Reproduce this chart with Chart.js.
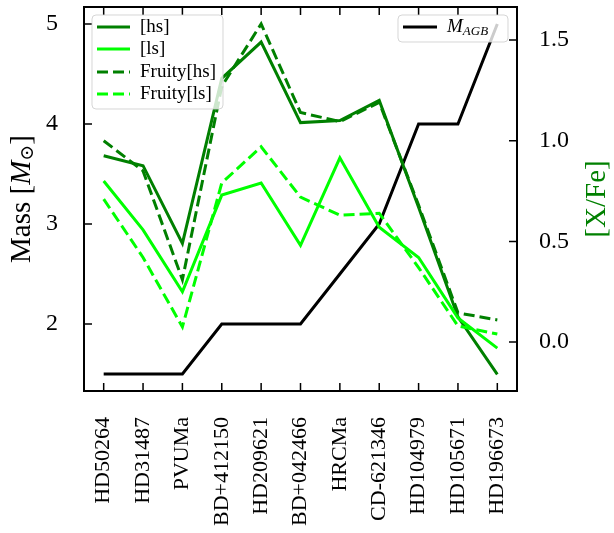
<!DOCTYPE html>
<html>
<head>
<meta charset="utf-8">
<script src="https://cdn.jsdelivr.net/npm/chart.js@4/dist/chart.umd.min.js"></script>
<style>
  html, body { margin: 0; padding: 0; background: #fff; }
</style>
</head>
<body>
<canvas id="chart" width="614" height="533"></canvas>
<script>
const stars = ['HD50264', 'HD31487', 'PVUMa', 'BD+412150', 'HD209621', 'BD+042466',
  'HRCMa', 'CD-621346', 'HD104979', 'HD105671', 'HD196673'];
const massAGB = [1.5, 1.5, 1.5, 2, 2, 2, 2.5, 3, 4, 4, 5];
const hs = [0.925, 0.876, 0.49, 1.31, 1.49, 1.09, 1.10, 1.20, 0.67, 0.125, -0.16];
const ls = [0.80, 0.557, 0.25, 0.73, 0.79, 0.48, 0.915, 0.57, 0.42, 0.12, -0.03];
const fruityHs = [1.00, 0.85, 0.31, 1.27, 1.58, 1.14, 1.095, 1.19, 0.68, 0.145, 0.11];
const fruityLs = [0.71, 0.42, 0.075, 0.79, 0.97, 0.72, 0.63, 0.64, 0.37, 0.08, 0.04];
const massTicks = [2, 3, 4, 5];
const xfeTicks = [0, 0.5, 1, 1.5];

const SERIF = "'Liberation Serif', 'DejaVu Serif', serif";
const DARK = '#008000';
const LIME = '#00ff00';

// draw a run of text pieces (font / vertical shift each) starting at x
function richText(ctx, parts, x, y) {
  let cx = x;
  parts.forEach(p => {
    ctx.font = p.font;
    ctx.fillText(p.t, cx, y + (p.dy || 0));
    cx += ctx.measureText(p.t).width;
  });
  return cx - x;
}
function richWidth(ctx, parts) {
  let w = 0;
  parts.forEach(p => { ctx.font = p.font; w += ctx.measureText(p.t).width; });
  return w;
}

function legendBox(ctx, x, y, w, h) {
  ctx.save();
  ctx.beginPath();
  ctx.roundRect(x, y, w, h, 4);
  ctx.fillStyle = 'rgba(255,255,255,0.8)';
  ctx.fill();
  ctx.strokeStyle = 'rgba(204,204,204,0.8)';
  ctx.lineWidth = 1;
  ctx.stroke();
  ctx.restore();
}

function legendRow(ctx, ds, x0, x1, y, tx, parts) {
  ctx.save();
  ctx.strokeStyle = ds.borderColor;
  ctx.lineWidth = ds.borderWidth;
  ctx.setLineDash(ds.borderDash || []);
  ctx.beginPath();
  ctx.moveTo(x0, y);
  ctx.lineTo(x1, y);
  ctx.stroke();
  ctx.setLineDash([]);
  ctx.fillStyle = '#000';
  ctx.textBaseline = 'middle';
  richText(ctx, parts, tx, y);
  ctx.restore();
}

const decorations = {
  id: 'decorations',
  afterDatasetsDraw(chart) {
    const { ctx, chartArea: a, scales } = chart;
    ctx.save();
    // inward ticks
    ctx.strokeStyle = '#000';
    ctx.lineWidth = 1.5;
    ctx.beginPath();
    scales.x.ticks.forEach((t, i) => {
      const x = scales.x.getPixelForTick(i);
      ctx.moveTo(x, a.bottom); ctx.lineTo(x, a.bottom - 8);
      ctx.moveTo(x, a.top); ctx.lineTo(x, a.top + 8);
    });
    massTicks.forEach(v => {
      const y = scales.y.getPixelForValue(v);
      ctx.moveTo(a.left, y); ctx.lineTo(a.left + 8, y);
    });
    xfeTicks.forEach(v => {
      const y = scales.y1.getPixelForValue(v);
      ctx.moveTo(a.right, y); ctx.lineTo(a.right - 8, y);
    });
    ctx.stroke();
    ctx.lineWidth = 2;
    ctx.strokeRect(a.left, a.top, a.right - a.left, a.bottom - a.top);

    // legends
    const ds = chart.data.datasets;
    legendBox(ctx, 92, 15, 131, 94);
    const f = '19px ' + SERIF;
    legendRow(ctx, ds[0], 97, 130, 27, 140, [{ t: '[hs]', font: f }]);
    legendRow(ctx, ds[1], 97, 130, 49, 140, [{ t: '[ls]', font: f }]);
    legendRow(ctx, ds[2], 97, 130, 72, 140, [{ t: 'Fruity[hs]', font: f }]);
    legendRow(ctx, ds[3], 97, 130, 94, 140, [{ t: 'Fruity[ls]', font: f }]);

    legendBox(ctx, 398, 15, 110, 27);
    legendRow(ctx, ds[4], 403, 437, 27, 447, [
      { t: 'M', font: 'italic 19px ' + SERIF },
      { t: 'AGB', font: 'italic 13px ' + SERIF, dy: 5 }
    ]);

    // axis titles
    ctx.fillStyle = '#000';
    ctx.textBaseline = 'middle';
    const mid = (a.top + a.bottom) / 2;
    const left = [
      { t: 'Mass [', font: '29px ' + SERIF },
      { t: 'M', font: 'italic 29px ' + SERIF },
      { t: '⊙', font: '19px ' + SERIF, dy: 6 },
      { t: ']', font: '29px ' + SERIF }
    ];
    ctx.save();
    ctx.translate(22, mid);
    ctx.rotate(-Math.PI / 2);
    richText(ctx, left, -richWidth(ctx, left) / 2, 0);
    ctx.restore();

    ctx.save();
    ctx.fillStyle = DARK;
    ctx.translate(597, mid);
    ctx.rotate(-Math.PI / 2);
    ctx.font = '29px ' + SERIF;
    ctx.textAlign = 'center';
    ctx.fillText('[X/Fe]', 0, 0);
    ctx.restore();

    ctx.restore();
  }
};

const noPad = s => { s.paddingTop = 0; s.paddingBottom = 0; s.paddingLeft = 0; s.paddingRight = 0; };

new Chart(document.getElementById('chart'), {
  type: 'line',
  data: {
    labels: stars,
    datasets: [
      { label: '[hs]', data: hs, yAxisID: 'y1', borderColor: DARK, borderWidth: 3, order: 4 },
      { label: '[ls]', data: ls, yAxisID: 'y1', borderColor: LIME, borderWidth: 3, order: 3 },
      { label: 'Fruity[hs]', data: fruityHs, yAxisID: 'y1', borderColor: DARK, borderWidth: 3, borderDash: [11, 5], order: 2 },
      { label: 'Fruity[ls]', data: fruityLs, yAxisID: 'y1', borderColor: LIME, borderWidth: 3, borderDash: [11, 5], order: 1 },
      { label: 'M_AGB', data: massAGB, yAxisID: 'y', borderColor: '#000', borderWidth: 3, order: 5 }
    ]
  },
  options: {
    responsive: false,
    animation: false,
    layout: { padding: { top: 7, left: 0, right: 0, bottom: 0 } },
    elements: { point: { radius: 0 }, line: { tension: 0, fill: false } },
    plugins: { legend: { display: false }, tooltip: { enabled: false } },
    scales: {
      x: {
        type: 'category',
        offset: true,
        grid: { display: false, drawTicks: false },
        border: { display: false },
        ticks: {
          autoSkip: false, minRotation: 90, maxRotation: 90, padding: 26,
          color: '#000', font: { family: SERIF, size: 22 }
        },
        afterFit(s) { s.height = 142; noPad(s); }
      },
      y: {
        position: 'left',
        min: 1.33, max: 5.17,
        grid: { display: false, drawTicks: false },
        border: { display: false },
        afterBuildTicks(s) { s.ticks = massTicks.map(v => ({ value: v })); },
        ticks: { padding: 26, color: '#000', font: { family: SERIF, size: 24 }, callback: v => String(v) },
        afterFit(s) { s.width = 84; noPad(s); }
      },
      y1: {
        position: 'right',
        min: -0.243, max: 1.664,
        grid: { display: false, drawTicks: false },
        border: { display: false },
        afterBuildTicks(s) { s.ticks = xfeTicks.map(v => ({ value: v })); },
        ticks: { padding: 22, color: '#000', font: { family: SERIF, size: 24 }, callback: v => v.toFixed(1) },
        afterFit(s) { s.width = 97; noPad(s); }
      }
    }
  },
  plugins: [decorations]
});
</script>
</body>
</html>
